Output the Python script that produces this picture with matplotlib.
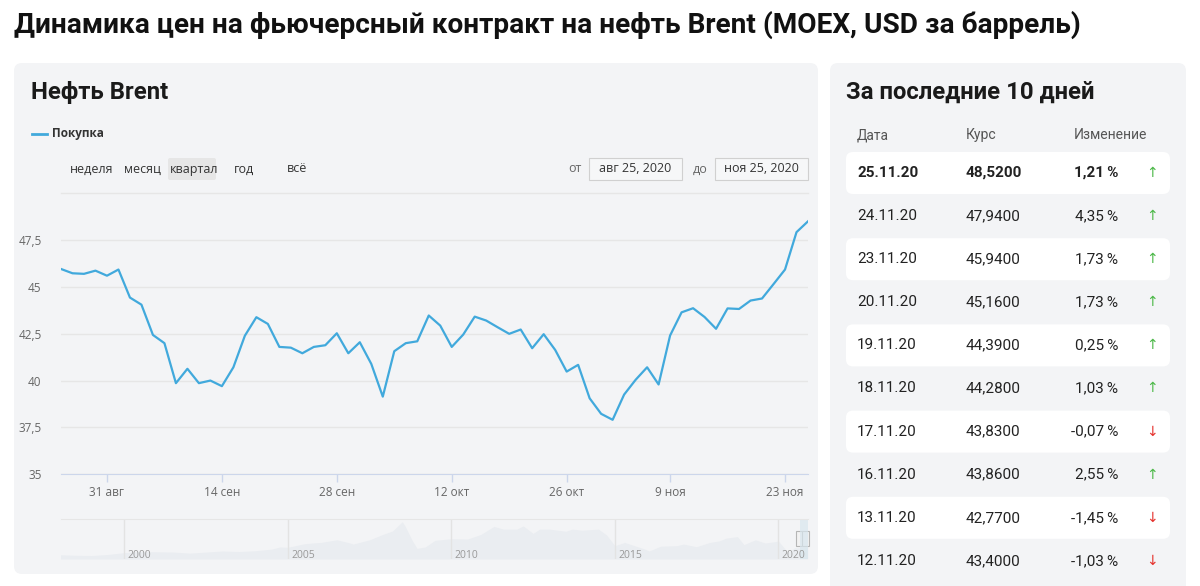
import numpy as np
import pandas as pd
import matplotlib
matplotlib.use('Agg')
import matplotlib.pyplot as plt
from matplotlib.patches import FancyBboxPatch, Rectangle

plt.rcParams['font.family'] = ['Roboto', 'DejaVu Sans']

# --- data ---
prices = [45.97, 45.74, 45.71, 45.88, 45.61, 45.94, 44.44, 44.06, 42.44, 42.00,
          39.86, 40.63, 39.86, 40.00, 39.70, 40.71, 42.40, 43.39, 43.03, 41.80,
          41.76, 41.46, 41.80, 41.89, 42.53, 41.46, 42.05, 40.89, 39.14, 41.57,
          42.00, 42.10, 43.48, 42.94, 41.80, 42.46, 43.42, 43.21, 42.85, 42.50,
          42.73, 41.73, 42.48, 41.64, 40.48, 40.84, 39.05, 38.22, 37.90, 39.25,
          40.04, 40.71, 39.79, 42.41, 43.65, 43.87, 43.40, 42.77, 43.86, 43.83,
          44.28, 44.39, 45.16, 45.94, 47.94, 48.52]
# trading days (MOEX holiday 4 Nov)
days = pd.bdate_range('2020-08-25', '2020-11-25')
days = days[days != pd.Timestamp('2020-11-04')]

tick_dates = ['2020-08-31', '2020-09-14', '2020-09-28', '2020-10-12',
              '2020-10-26', '2020-11-09', '2020-11-23']
tick_labels = ['31 авг', '14 сен', '28 сен', '12 окт', '26 окт', '9 ноя', '23 ноя']
y_ticks = [35, 37.5, 40, 42.5, 45, 47.5]

# navigator (long history, rough shape)
nav_years = [1998.0, 1998.5, 1999.0, 1999.5, 2000.0, 2000.5, 2001.0, 2001.5, 2002.0,
             2002.5, 2003.0, 2003.5, 2004.0, 2004.5, 2004.75, 2005.0, 2005.5, 2005.75,
             2006.0, 2006.5, 2006.9, 2007.0, 2007.5, 2007.9, 2008.2, 2008.5, 2008.6,
             2008.8, 2008.95, 2009.2, 2009.5, 2010.0, 2010.5, 2010.9, 2011.3, 2011.6,
             2012.0, 2012.2, 2012.5, 2012.7, 2013.0, 2013.5, 2013.7, 2014.0, 2014.5,
             2014.75, 2015.0, 2015.3, 2015.6, 2015.9, 2016.05, 2016.4, 2016.9, 2017.1,
             2017.5, 2017.9, 2018.2, 2018.4, 2018.75, 2018.95, 2019.3, 2019.6, 2019.9,
             2020.0, 2020.3, 2020.5, 2020.75, 2020.9]
nav_vals = [16, 14, 13, 17, 24, 28, 27, 26, 22, 26, 30, 28, 31, 37, 45, 44, 57, 60,
            62, 72, 60, 56, 72, 92, 105, 140, 120, 70, 40, 45, 70, 76, 75, 92, 122,
            112, 112, 124, 96, 112, 112, 104, 112, 108, 112, 90, 50, 62, 50, 38, 30,
            48, 50, 56, 46, 62, 68, 78, 84, 54, 72, 60, 65, 68, 24, 42, 42, 48]
nav_year_ticks = [2000, 2005, 2010, 2015, 2020]

tbl_dates = ['25.11.20', '24.11.20', '23.11.20', '20.11.20', '19.11.20',
             '18.11.20', '17.11.20', '16.11.20', '13.11.20', '12.11.20']
tbl_rates = ['48,5200', '47,9400', '45,9400', '45,1600', '44,3900',
             '44,2800', '43,8300', '43,8600', '42,7700', '43,4000']
tbl_change = [1.21, 4.35, 1.73, 1.73, 0.25, 1.03, -0.07, 2.55, -1.45, -1.03]

W, H = 1200, 586
LINE = '#41a9dc'
CARD = '#f3f4f6'
OS = ['Open Sans', 'DejaVu Sans']

fig = plt.figure(figsize=(W / 100, H / 100), dpi=100)
fig.patch.set_facecolor('white')

# background axes in pixel coordinates
bg = fig.add_axes([0, 0, 1, 1], zorder=0)
bg.set_xlim(0, W)
bg.set_ylim(H, 0)
bg.axis('off')


def card(x0, y0, x1, y1, fc, r=8, ec='none', lw=0):
    bg.add_patch(FancyBboxPatch((x0, y0), x1 - x0, y1 - y0,
                                boxstyle='round,pad=0,rounding_size=%d' % r,
                                fc=fc, ec=ec, lw=lw))


bg.text(14, 25, 'Динамика цен на фьючерсный контракт на нефть Brent (MOEX, USD за баррель)',
        fontsize=20.2, fontweight='bold', color='#111111', va='center')

# left card
card(14, 63, 818, 574, CARD)
bg.text(31, 93, 'Нефть Brent', fontsize=17.2, fontweight='bold', color='#1a1a1a', va='center')
bg.plot([32, 47], [134, 134], color=LINE, lw=2)
bg.text(52, 134, 'Покупка', fontsize=8.5, fontweight='bold', color='#333333', va='center',
        family=OS)

card(168, 158, 216, 180, '#e6e6e6', r=2)
for lbl, x in zip(['неделя', 'месяц', 'квартал', 'год', 'всё'], [70, 124, 170, 234, 287]):
    bg.text(x, 169, lbl, fontsize=9, color='#333333', va='center', family=OS)
bg.text(568, 169, 'от', fontsize=9, color='#666666', va='center', family=OS)
bg.text(693, 169, 'до', fontsize=9, color='#666666', va='center', family=OS)
for x0, x1, lbl in [(589, 682, 'авг 25, 2020'), (715, 808, 'ноя 25, 2020')]:
    bg.add_patch(Rectangle((x0, 158), x1 - x0, 22, fc='#f6f7f8', ec='#d0d0d0', lw=0.8))
    bg.text((x0 + x1) / 2, 169, lbl, fontsize=9, color='#333333', va='center', ha='center',
            family=OS)
bg.plot([61, 808], [192.5, 192.5], color='#e6e6e6', lw=1)

# right card
card(830, 63, 1186, 600, CARD)
bg.text(846, 92, 'За последние 10 дней', fontsize=17.2, fontweight='bold', color='#1a1a1a',
        va='center')
for lbl, x in zip(['Дата', 'Курс', 'Изменение'], [857, 966, 1074]):
    bg.text(x, 135, lbl, fontsize=10, color='#555555', va='center')

for i in range(len(tbl_dates)):
    yc = 173 + i * 43.1
    if i % 2 == 0:
        card(846, yc - 21, 1170, yc + 21, 'white', r=7)
    fw = 'bold' if i == 0 else 'normal'
    bg.text(857, yc, tbl_dates[i], fontsize=11, fontweight=fw, color='#222222', va='center')
    bg.text(966, yc, tbl_rates[i], fontsize=11, fontweight=fw, color='#222222', va='center')
    ch = ('%.2f' % tbl_change[i]).replace('.', ',') + '\u2009%'
    bg.text(1118, yc, ch, fontsize=11, fontweight=fw, color='#222222', va='center', ha='right')
    up = tbl_change[i] >= 0
    bg.text(1152, yc, '↑' if up else '↓', fontsize=10, color='#4cb848' if up else '#e5322d',
            va='center', ha='center', family=['DejaVu Sans'])

# main chart
ax = fig.add_axes([61 / W, 1 - 474 / H, 747 / W, (474 - 203) / H], zorder=1)
ax.set_facecolor('none')
x = np.arange(len(prices))
ax.plot(x, prices, color=LINE, lw=1.6)
ax.set_xlim(0, len(prices) - 1)
ax.set_ylim(35, 49.5)
ax.set_yticks(y_ticks)
ax.set_yticklabels([('%g' % v).replace('.', ',') for v in y_ticks])
ax.grid(axis='y', color='#e6e6e6', lw=1)
ax.set_axisbelow(True)
pos = [list(days).index(pd.Timestamp(d)) for d in tick_dates]
ax.set_xticks(pos)
ax.set_xticklabels(tick_labels)
for s in ['top', 'right', 'left']:
    ax.spines[s].set_visible(False)
ax.spines['bottom'].set_color('#ccd6eb')
ax.tick_params(axis='y', length=0, pad=14, labelsize=8.5, labelcolor='#666666')
ax.tick_params(axis='x', length=6, width=1, color='#ccd6eb', pad=3, labelsize=8.5,
               labelcolor='#666666')
for t in ax.get_xticklabels() + ax.get_yticklabels():
    t.set_family(OS)

# navigator
nav = fig.add_axes([61 / W, 1 - 559 / H, 747 / W, 40 / H], zorder=1)
nav.set_facecolor('none')
nav.fill_between(nav_years, nav_vals, 0, color='#eaedf1', lw=0)
nav.set_xlim(1998.06, 2020.91)
nav.set_ylim(0, 150)
nav.set_yticks([])
nav.set_xticks(nav_year_ticks)
nav.set_xticklabels([])
nav.tick_params(axis='x', length=0)
nav.grid(axis='x', color='#e3e3e3', lw=1)
for s in ['left', 'right', 'bottom']:
    nav.spines[s].set_visible(False)
nav.spines['top'].set_color('#e6e6e6')
for yr in nav_year_ticks:
    nav.text(yr + 0.1, 14, str(yr), fontsize=7.5, color='#999999', va='center', family=OS)
nav.axvspan(2020.65, 2020.91, color='#d8e6ee', alpha=0.7, lw=0)
for hx in [799.5, 805.5]:
    bg.add_patch(Rectangle((hx - 3.5, 531), 7, 15, fc='#f2f2f2', ec='#b5b5b5', lw=0.8, zorder=5))

fig.savefig('out.png', dpi=100, facecolor='white')
